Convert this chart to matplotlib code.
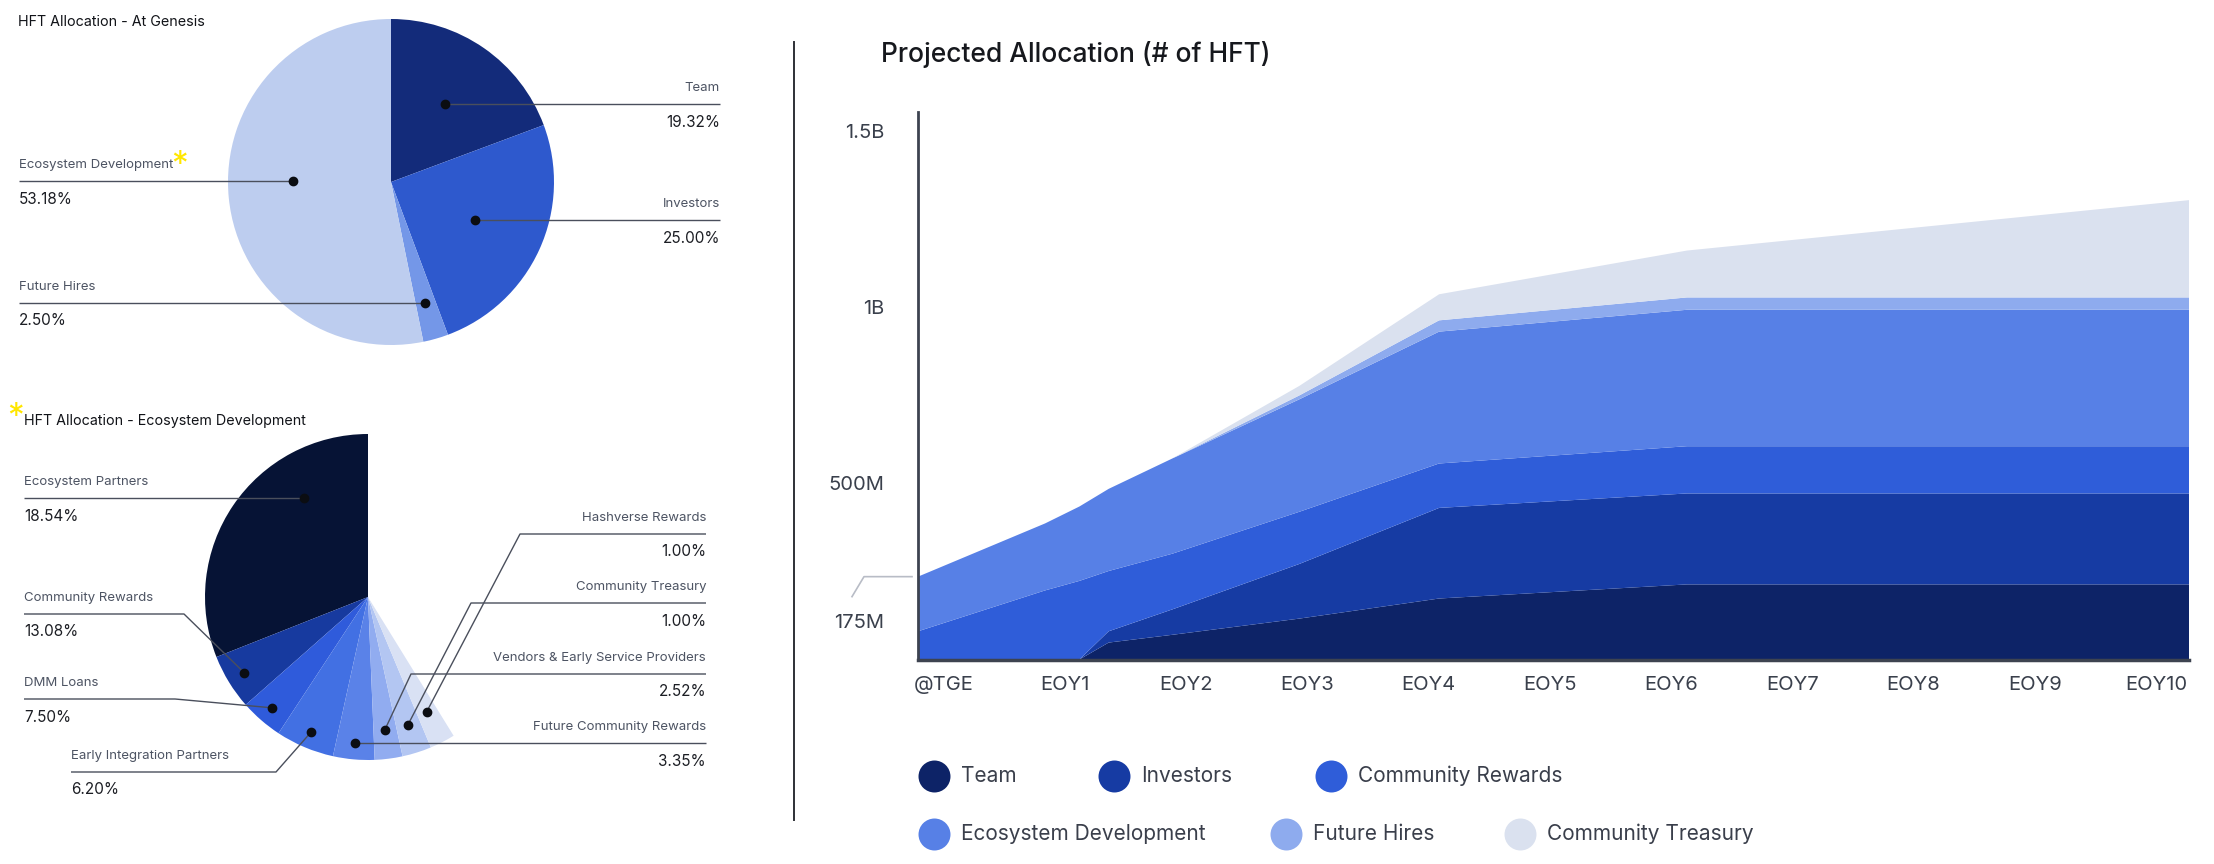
import numpy as np
import matplotlib
matplotlib.use('Agg')
import matplotlib.pyplot as plt

plt.rcParams['font.family'] = ['Inter', 'DejaVu Sans']

W, H = 2214, 864

# genesis pie
genesis_labels = ['Team', 'Investors', 'Future Hires', 'Ecosystem Development']
genesis_pct = [19.32, 25.00, 2.50, 53.18]
genesis_colors = ['#132b7a', '#2e59cd', '#7497e8', '#bdcdef']

# ecosystem development pie (labels show the stated %, slices as drawn in the source)
eco_labels = ['Ecosystem Partners', 'Community Rewards', 'DMM Loans', 'Early Integration Partners',
              'Future Community Rewards', 'Vendors & Early Service Providers',
              'Community Treasury', 'Hashverse Rewards']
eco_pct = [18.54, 13.08, 7.50, 6.20, 3.35, 2.52, 1.00, 1.00]
eco_drawn = [31.0, 5.5, 4.25, 5.8, 4.1, 2.75, 2.9, 2.5]   # share of full circle, %
eco_colors = ['#061335', '#173a9f', '#2f5bdb', '#4270e3', '#5a82e8', '#91acf0', '#b3c6f2', '#d9e1f4']

# projected allocation, millions of HFT
years = [0, 1.0, 1.27, 1.5, 2.0, 3.0, 4.1, 6.05, 10]
team = [0, 0, 0, 48, 70, 116, 173, 213, 213]
investors = [0, 0, 0, 32, 72, 155, 257, 258, 258]
community_rewards = [80, 196, 223, 171, 158, 148, 126, 134, 134]
ecosystem_dev = [155, 190, 211, 233, 270, 319, 374, 387, 387]
future_hires = [0, 0, 0, 0, 0, 11, 32, 35, 35]
community_treasury = [0, 0, 0, 0, 0, 27, 74, 133, 276]
series_names = ['Team', 'Investors', 'Community Rewards', 'Ecosystem Development',
                'Future Hires', 'Community Treasury']
area_colors = ['#0d2367', '#163ba3', '#2f5dd9', '#5780e6', '#8eabee', '#dae1ef']
x_labels = ['@TGE'] + ['EOY%d' % i for i in range(1, 11)]
y_ticks = [500, 1000, 1500]
y_labels = ['500M', '1B', '1.5B']
tge_label = '175M'

name_col = '#4d5463'
pct_col = '#1c1e24'
line_col = '#4a4f5c'

fig = plt.figure(figsize=(W / 100, H / 100), dpi=100)
ov = fig.add_axes([0, 0, 1, 1])
ov.set_xlim(0, W)
ov.set_ylim(H, 0)
ov.axis('off')
ov.set_zorder(10)
ov.patch.set_visible(False)


def pie_axes(cx, cy, r):
    a = fig.add_axes([(cx - r) / W, 1 - (cy + r) / H, 2 * r / W, 2 * r / H])
    return a


def label_pie(wedges, cx, cy, R, specs, names, pcts):
    for w, sp, name, pct in zip(wedges, specs, names, pcts):
        rf, shift, tx, side, ly, ex = sp
        a = np.radians((w.theta1 + w.theta2) / 2 + shift)
        dx = cx + rf * R * np.cos(a)
        dy = cy - rf * R * np.sin(a)
        if ly is None:
            ly = dy
            xs, ys = [tx, dx], [ly, ly]
        else:
            xs, ys = [tx, ex, dx], [ly, ly, dy]
        ov.plot(xs, ys, color=line_col, lw=1.0, solid_capstyle='butt')
        ov.plot(dx, dy, 'o', color='#0b0d12', ms=6)
        ha = 'right' if side == 'r' else 'left'
        ov.text(tx, ly - 16, name, fontsize=9.5, color=name_col, ha=ha, va='center')
        ov.text(tx, ly + 18, '%.2f%%' % pct, fontsize=11, color=pct_col, ha=ha, va='center')


# --- top pie
cx1, cy1, R = 391, 182, 163
ax1 = pie_axes(cx1, cy1, R)
w1, _ = ax1.pie(genesis_pct, colors=genesis_colors, startangle=90, counterclock=False,
                wedgeprops=dict(linewidth=0))
ax1.set_xlim(-1, 1)
ax1.set_ylim(-1, 1)
top_specs = [(0.58, 0, 720, 'r', None, None),
             (0.565, 0, 720, 'r', None, None),
             (0.77, 0, 19, 'l', None, None),
             (0.60, -6.3, 19, 'l', None, None)]
label_pie(w1, cx1, cy1, R, top_specs, genesis_labels, genesis_pct)
ov.text(18, 22, 'HFT Allocation - At Genesis', fontsize=10.3, color='#111318', va='center')
ov.text(171, 166, '*', fontsize=24, color='#ffe600', va='center')

# --- bottom pie
cx2, cy2 = 368, 597
ax2 = pie_axes(cx2, cy2, R)
w2, _ = ax2.pie([v / 100 for v in eco_drawn], colors=eco_colors, startangle=90,
                counterclock=True, normalize=False, wedgeprops=dict(linewidth=0))
ax2.set_xlim(-1, 1)
ax2.set_ylim(-1, 1)
bot_specs = [(0.72, -22.9, 24, 'l', None, None),
             (0.89, 0, 24, 'l', 614, 184),
             (0.90, 0, 24, 'l', 699, 175),
             (0.90, 0, 71, 'l', 772, 276),
             (0.90, 0, 706, 'r', None, None),
             (0.82, 0, 706, 'r', 674, 411),
             (0.82, 0, 706, 'r', 603, 471),
             (0.79, 0, 706, 'r', 534, 520)]
label_pie(w2, cx2, cy2, R, bot_specs, eco_labels, eco_pct)
ov.text(24, 421, 'HFT Allocation - Ecosystem Development', fontsize=10.3, color='#111318', va='center')
ov.text(7, 418, '*', fontsize=24, color='#ffe600', va='center')

# separator
ov.plot([794, 794], [42, 820], color='#2e3036', lw=1.4)

# --- area chart
ax = fig.add_axes([918 / W, 1 - 659.5 / H, 1271 / W, (659.5 - 112) / H])
ax.stackplot(years, team, investors, community_rewards, ecosystem_dev, future_hires,
             community_treasury, colors=area_colors, linewidth=0)
ax.set_xlim(0, 10)
ax.set_ylim(0, 1553)
ax.set_yticks(y_ticks)
ax.set_yticklabels(y_labels)
ax.set_xticks(np.linspace(0.2, 9.74, len(x_labels)))
ax.set_xticklabels(x_labels)
ax.tick_params(axis='y', length=0, pad=24, labelsize=14.5, labelcolor='#3a404c')
ax.tick_params(axis='x', length=0, pad=12, labelsize=14.5, labelcolor='#3a404c')
for s in ['top', 'right']:
    ax.spines[s].set_visible(False)
ax.spines['left'].set_color('#3d4350')
ax.spines['left'].set_linewidth(2)
ax.spines['bottom'].set_color('#3d4350')
ax.spines['bottom'].set_linewidth(2.5)

# TGE total marker label
total0 = team[0] + investors[0] + community_rewards[0] + ecosystem_dev[0] + future_hires[0] + community_treasury[0]
py = H - ax.transData.transform((0, total0))[1]
ov.plot([852, 864, 912], [py + 20, py, py], color='#b8bcc6', lw=1.2)
ov.text(884, 623, tge_label, fontsize=14.5, color='#3a404c', ha='right', va='center')

ov.text(881, 55, 'Projected Allocation (# of HFT)', fontsize=19, color='#16181d', va='center',
        fontweight='medium')

# legend
leg_x = [934, 1114, 1331, 934, 1286, 1520]
leg_y = [776, 776, 776, 834, 834, 834]
for lx, lyy, c, n in zip(leg_x, leg_y, area_colors, series_names):
    ov.scatter([lx], [lyy], s=530, color=c, linewidths=0)
    ov.text(lx + 27, lyy, n, fontsize=15, color='#3a3f4b', va='center')

fig.savefig('out.png', dpi=100)
